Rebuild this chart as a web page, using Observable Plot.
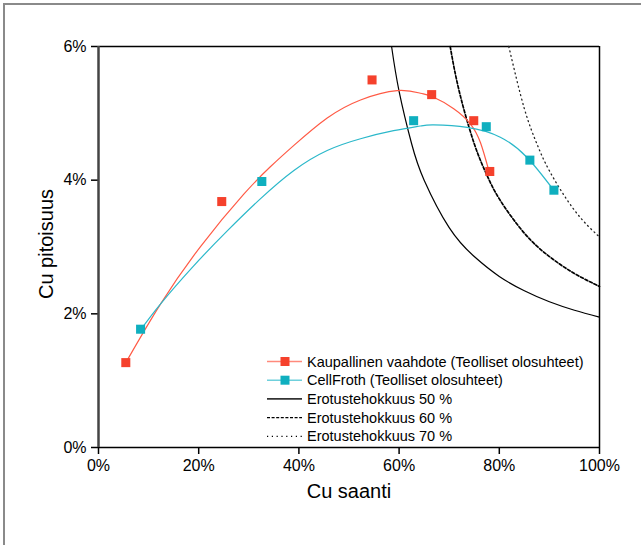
<!DOCTYPE html>
<html><head><meta charset="utf-8">
<script src="https://cdn.jsdelivr.net/npm/d3@7"></script>
<script src="https://cdn.jsdelivr.net/npm/@observablehq/plot@0.6"></script>
<style>
body{margin:0;background:#fff;}
#wrap{position:relative;width:641px;height:545px;overflow:hidden;}
#wrap svg{position:absolute;left:0;top:0;}
#frame{position:absolute;left:3px;top:3px;width:700px;height:600px;border-top:2px solid #8a8a8a;border-left:2px solid #8a8a8a;pointer-events:none;}
</style></head><body><div id="wrap"><div id="frame"></div></div>
<script>
// axis ticks (percent)
const xTicks = [0, 20, 40, 60, 80, 100];
const yTicks = [0, 2, 4, 6];

// measured points: Cu saanti (%) / Cu pitoisuus (%)
const kaupX = [5.45, 24.6, 54.6, 66.5, 74.9, 78.1];
const kaupY = [1.27, 3.68, 5.50, 5.28, 4.89, 4.13];
const cellX = [8.4, 32.6, 62.9, 77.4, 86.1, 90.9];
const cellY = [1.77, 3.98, 4.89, 4.80, 4.30, 3.85];

// trend lines
const kaupFitX = [5.45, 12.4, 20.4, 29.0, 34.3, 39.0, 45.65, 52.3, 59.6, 64.3, 66.9, 70.9, 74.25, 76.25, 77.9];
const kaupFitY = [1.27, 2.15, 3.01, 3.79, 4.20, 4.52, 4.93, 5.20, 5.34, 5.30, 5.24, 5.07, 4.84, 4.56, 4.145];
const cellFitX = [8.4, 12.4, 19.0, 25.7, 32.3, 39.0, 45.65, 52.3, 58.9, 64.2, 66.9, 73.6, 80.2, 85.6, 90.9];
const cellFitY = [1.76, 2.15, 2.718, 3.241, 3.72, 4.145, 4.444, 4.62, 4.74, 4.81, 4.826, 4.79, 4.643, 4.335, 3.846];

// separation efficiency curves
const se50X = [58.5, 60, 62.5, 65, 70, 75, 80, 85, 90, 95, 100];
const se50Y = [6.0, 5.33, 4.545, 4.0, 3.29, 2.857, 2.56, 2.345, 2.18, 2.054, 1.95];
const se60X = [70.2, 72, 75, 77.5, 80, 85, 90, 95, 100];
const se60Y = [6.0, 5.33, 4.545, 4.08, 3.72, 3.207, 2.857, 2.603, 2.41];
const se70X = [81.9, 85, 87.5, 90, 95, 100];
const se70Y = [6.0, 5.07, 4.545, 4.14, 3.55, 3.15];

const legendLabels = [
  "Kaupallinen vaahdote (Teolliset olosuhteet)",
  "CellFroth (Teolliset olosuhteet)",
  "Erotustehokkuus 50 %",
  "Erotustehokkuus 60 %",
  "Erotustehokkuus 70 %"
];
const xTitle = "Cu saanti";
const yTitle = "Cu pitoisuus";

const RED = "#f5412c", RED_LINE = "#ff5a45", CYAN = "#0fafbf", CYAN_LINE = "#2bb8ca";
const pts = (xs, ys) => xs.map((x, i) => ({x, y: ys[i]}));

const FONT = "'Liberation Sans', Arial, Helvetica, sans-serif";

const chart = Plot.plot({
  width: 641, height: 545,
  marginLeft: 98, marginRight: 42, marginTop: 46, marginBottom: 98,
  style: {fontFamily: FONT, fontSize: "16px", color: "#000", background: "transparent", overflow: "visible"},
  x: {domain: [0, 100], ticks: xTicks, tickFormat: d => d + "%", tickSize: 7, tickPadding: 5, label: null},
  y: {domain: [0, 6], ticks: yTicks, tickFormat: d => d + "%", tickSize: 7, tickPadding: 5, label: null},
  marks: [
    Plot.ruleY([6], {stroke: "#000", strokeWidth: 1.5}),
    Plot.ruleX([100], {stroke: "#000", strokeWidth: 1.5}),
    Plot.ruleY([0], {stroke: "#000", strokeWidth: 1.5}),
    Plot.ruleX([0], {stroke: "#444", strokeWidth: 2.5}),
    Plot.line(pts(se50X, se50Y), {x: "x", y: "y", stroke: "#000", strokeWidth: 1.2, curve: "natural"}),
    Plot.line(pts(se60X, se60Y), {x: "x", y: "y", stroke: "#000", strokeWidth: 1.7, strokeDasharray: "3,2", curve: "natural"}),
    Plot.line(pts(se70X, se70Y), {x: "x", y: "y", stroke: "#222", strokeWidth: 1.3, strokeDasharray: "1,3.5", curve: "natural"}),
    Plot.line(pts(kaupFitX, kaupFitY), {x: "x", y: "y", stroke: RED_LINE, strokeWidth: 1.2, curve: "natural"}),
    Plot.line(pts(cellFitX, cellFitY), {x: "x", y: "y", stroke: CYAN_LINE, strokeWidth: 1.2, curve: "natural"}),
    Plot.dot(pts(kaupX, kaupY), {x: "x", y: "y", symbol: "square", r: 5.1, fill: RED}),
    Plot.dot(pts(cellX, cellY), {x: "x", y: "y", symbol: "square", r: 5.1, fill: CYAN}),
    Plot.text([xTitle], {text: d => d, frameAnchor: "bottom", dy: 50, fontSize: 20, textAnchor: "middle"}),
    Plot.text([yTitle], {text: d => d, frameAnchor: "left", dx: -52, dy: -3, rotate: -90, fontSize: 20, textAnchor: "middle"})
  ]
});

const svg = d3.select(chart);
svg.selectAll("[aria-label='x-axis tick'] path, [aria-label='y-axis tick'] path").attr("stroke-width", 1.5);

// legend
const lg = svg.append("g").attr("font-family", FONT).attr("font-size", 14.5).attr("text-anchor", "start");
const rowY0 = 361.5, rowStep = 18.7, lx0 = 267, lx1 = 302, tx = 307;
const legendStyles = [
  {stroke: "#ff8a7c", w: 1.6, dash: null, marker: RED},
  {stroke: "#6fd0dc", w: 1.6, dash: null, marker: CYAN},
  {stroke: "#333", w: 1.6, dash: null},
  {stroke: "#000", w: 1.2, dash: "3,1.6"},
  {stroke: "#000", w: 1.2, dash: "1.2,3.6"}
];
legendLabels.forEach((lab, i) => {
  const y = rowY0 + i * rowStep;
  const s = legendStyles[i];
  lg.append("line").attr("x1", lx0).attr("x2", lx1).attr("y1", y).attr("y2", y)
    .attr("stroke", s.stroke).attr("stroke-width", s.w).attr("stroke-dasharray", s.dash);
  if (s.marker) lg.append("rect").attr("x", 280.5).attr("y", y - 4.5).attr("width", 9).attr("height", 9).attr("fill", s.marker);
  lg.append("text").attr("x", tx).attr("y", y).attr("dy", "0.35em").attr("fill", "#000").attr("text-anchor", "start").text(lab);
});

document.getElementById("wrap").appendChild(chart);
</script>
</body></html>
